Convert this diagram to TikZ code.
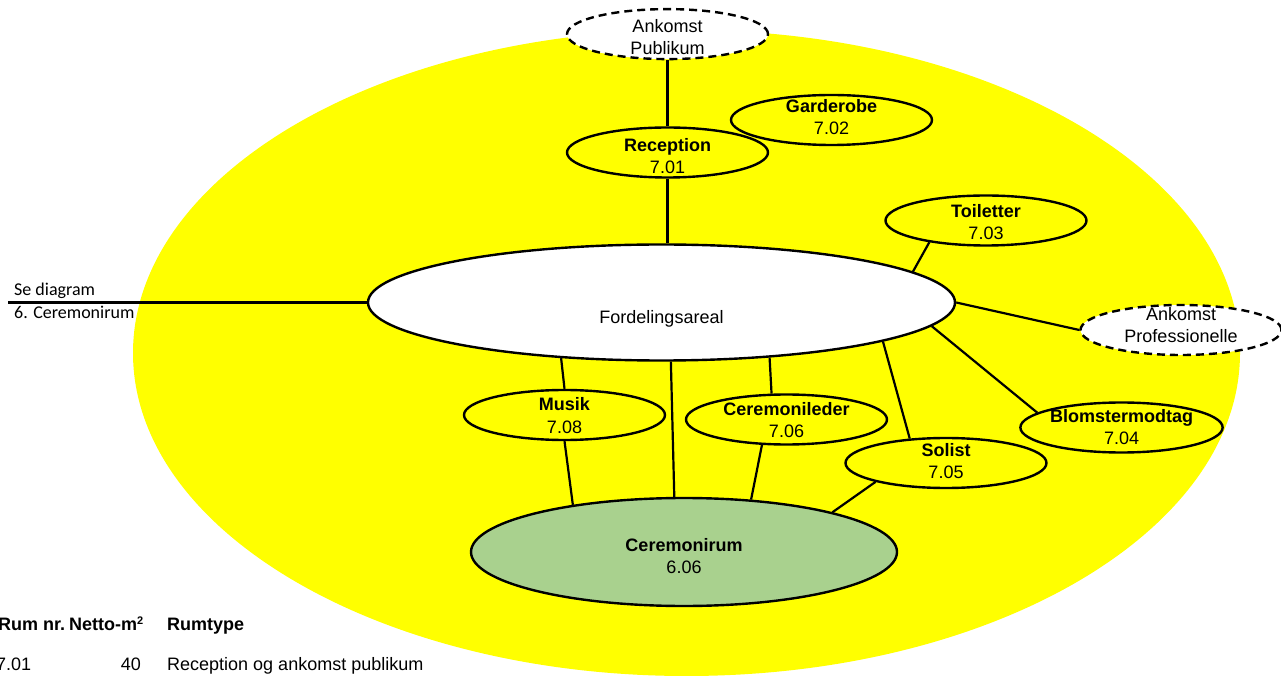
\documentclass[tikz,border=0pt]{standalone}
\usepackage{fontspec}
\setmainfont{Liberation Sans}
\newfontfamily\calibrifont{Carlito}
\definecolor{sage}{RGB}{169, 209, 142}
\definecolor{canary}{RGB}{255, 255, 0}
\usetikzlibrary{shapes,positioning}

\begin{document}
\begin{tikzpicture}[x=1pt, y=1pt, line width=2.4pt]
    \tikzstyle{room} = [draw, ellipse, minimum width=201pt, minimum height=50pt, inner xsep=0pt, inner ysep=-12pt, align=center, text height=40pt, text depth=2pt, font=\fontsize{18pt}{22pt}\selectfont]
    \tikzstyle{arrival} = [room, fill=white, dash pattern=on 8pt off 5pt]
    \tikzstyle{ln} = [draw, line width=2.2pt]
    \tikzstyle{txt} = [inner sep=0pt, anchor=base west, font=\fontsize{18pt}{22pt}\selectfont]

    \useasboundingbox (0,0) rectangle (1281,675);
    \fill [canary] (686.5,322) ellipse [x radius=553.5, y radius=323];

    % hub and main hall
    \node [room, fill=white, minimum width=587pt, minimum height=116pt, text height=45pt] (ford) at (661.5,372.5) {Fordelingsareal};
    \node [room, fill=sage, minimum width=426pt, minimum height=108pt, text height=44pt] (crum) at (684,123) {\textbf{Ceremonirum}\\6.06};

    % rooms
    \node [room, text height=45pt] (rec) at (667.5,522.5) {\textbf{Reception}\\7.01};
    \node [arrival, above=66pt of rec, text height=43pt] (apub) {Ankomst\\Publikum};
    \node [room, text height=32pt] (gard) at (831.5,555) {\textbf{Garderobe}\\7.02};
    \node [room] (toil) at (986,454.5) {\textbf{Toiletter}\\7.03};
    \node [arrival, text height=28pt] (aprof) at (1181,345) {Ankomst\\Professionelle};
    \node [room, text height=37pt] (blom) at (1121.5,247.5) {\textbf{Blomstermodtag}\\7.04};
    \node [room, text height=32pt] (solist) at (946,212) {\textbf{Solist}\\7.05};
    \node [room, text height=38pt] (cleder) at (786.5,255.5) {\textbf{Ceremonileder}\\7.06};
    \node [room, text height=38pt] (musik) at (564.5,260) {\textbf{Musik}\\7.08};

    % links
    \draw [ln] (apub) -- (rec);
    \draw [ln] (rec) -- (rec |- ford.north);
    \draw [ln] (toil.201) -- (ford.7);
    \draw [ln] (ford.east) -- (aprof.west);
    \draw [ln] (ford.-5) -- (blom.170);
    \draw [ln] (ford.-10) -- (solist.146);
    \draw [ln] (ford.-27) -- (cleder.120);
    \draw [ln] (ford.-81) -- (crum.100);
    \draw [ln] (ford.209) -- (musik.north);
    \draw [ln] (musik.south) -- (crum.157);
    \draw [ln] (cleder.226) -- (crum.38);
    \draw [ln] (solist.195) -- (crum.15);

    % reference to diagram 6
    \coordinate (sediag) at (8,372.5);
    \draw [ln] (sediag) -- (ford.west);
    \node [txt, font=\calibrifont\fontsize{18pt}{22pt}\selectfont] (seetop) at (13,379) {Se diagram};
    \node [txt, font=\calibrifont\fontsize{18pt}{22pt}\selectfont] (seebot) at (13,356) {6. Ceremonirum};

    % table
    \node [txt, font=\bfseries\fontsize{18pt}{22pt}\selectfont] (hdnr) at (-3,45) {Rum nr.};
    \node [txt, font=\bfseries\fontsize{18pt}{22pt}\selectfont] (hdm2) at (68,45) {Netto-m\raisebox{6pt}{\fontsize{11pt}{12pt}\selectfont 2}};
    \node [txt, font=\bfseries\fontsize{18pt}{22pt}\selectfont] (hdtype) at (166,45) {Rumtype};
    \node [txt] (r1nr) at (-5,5) {7.01};
    \node [txt, anchor=base east] (r1m2) at (142,5) {40};
    \node [txt] (r1type) at (166,5) {Reception og ankomst publikum};
\end{tikzpicture}
\end{document}
